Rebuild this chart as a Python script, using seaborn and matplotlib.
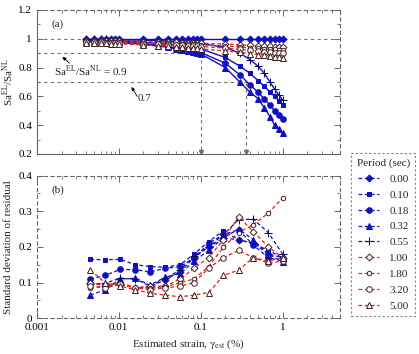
import numpy as np
import pandas as pd
import matplotlib
matplotlib.use("Agg")
import matplotlib.pyplot as plt
import seaborn as sns
from matplotlib.ticker import FuncFormatter, MultipleLocator, LogLocator, NullFormatter

# ============= data =============
periods = ["0.00", "0.10", "0.18", "0.32", "0.55", "1.00", "1.80", "3.20", "5.00"]

# (a) ratio Sa_EL / Sa_NL
strain_a = [0.004, 0.005, 0.006, 0.007, 0.008, 0.009, 0.01,
            0.02, 0.03, 0.04, 0.05, 0.06, 0.07, 0.08, 0.09, 0.1,
            0.2, 0.3, 0.4, 0.5, 0.6, 0.7, 0.8, 0.9, 1.0]
ratio_000 = [1.0] * 25
ratio_010 = [0.99, 0.99, 0.99, 0.99, 0.99, 0.988, 0.987,
             0.975, 0.968, 0.962, 0.955, 0.95, 0.945, 0.94, 0.935, 0.93,
             0.87, 0.81, 0.76, 0.71, 0.67, 0.63, 0.60, 0.57, 0.54]
ratio_018 = [0.985, 0.985, 0.984, 0.983, 0.982, 0.981, 0.98,
             0.965, 0.955, 0.945, 0.937, 0.93, 0.923, 0.917, 0.912, 0.905,
             0.83, 0.75, 0.68, 0.63, 0.58, 0.54, 0.50, 0.47, 0.44]
ratio_032 = [0.98, 0.98, 0.979, 0.978, 0.977, 0.976, 0.975,
             0.96, 0.95, 0.94, 0.93, 0.922, 0.915, 0.908, 0.902, 0.895,
             0.80, 0.70, 0.63, 0.585, 0.52, 0.46, 0.40, 0.37, 0.345]
ratio_055 = [0.995, 0.995, 0.995, 0.995, 0.994, 0.994, 0.993,
             0.99, 0.987, 0.984, 0.981, 0.978, 0.975, 0.972, 0.97, 0.967,
             0.94, 0.90, 0.855, 0.81, 0.76, 0.70, 0.65, 0.61, 0.575]
ratio_100 = [0.985, 0.985, 0.985, 0.984, 0.984, 0.983, 0.983,
             0.98, 0.978, 0.976, 0.975, 0.973, 0.972, 0.971, 0.97, 0.969,
             0.963, 0.958, 0.955, 0.952, 0.95, 0.948, 0.946, 0.944, 0.942]
ratio_180 = [0.98, 0.98, 0.979, 0.979, 0.978, 0.978, 0.977,
             0.973, 0.97, 0.968, 0.966, 0.964, 0.962, 0.961, 0.96, 0.958,
             0.95, 0.943, 0.938, 0.934, 0.931, 0.928, 0.926, 0.924, 0.922]
ratio_320 = [0.975, 0.974, 0.974, 0.973, 0.972, 0.972, 0.971,
             0.966, 0.962, 0.959, 0.956, 0.954, 0.952, 0.95, 0.948, 0.946,
             0.935, 0.926, 0.92, 0.915, 0.911, 0.907, 0.904, 0.901, 0.898]
ratio_500 = [0.97, 0.969, 0.968, 0.967, 0.966, 0.965, 0.964,
             0.957, 0.952, 0.948, 0.944, 0.941, 0.938, 0.935, 0.933, 0.93,
             0.915, 0.905, 0.897, 0.89, 0.885, 0.88, 0.876, 0.872, 0.868]

# (b) standard deviation of residual
strain_b = [0.0045, 0.0068, 0.0104, 0.016, 0.024, 0.037, 0.056,
            0.083, 0.125, 0.19, 0.29, 0.44, 0.67, 1.0]
sd_000 = [0.10, 0.092, 0.095, 0.085, 0.088, 0.108, 0.13, 0.17, 0.20, 0.225, 0.22, 0.21, 0.18, 0.17]
sd_010 = [0.165, 0.164, 0.165, 0.15, 0.145, 0.143, 0.15, 0.18, 0.215, 0.245, 0.22, 0.21, 0.19, 0.17]
sd_018 = [0.11, 0.12, 0.137, 0.136, 0.13, 0.14, 0.145, 0.168, 0.21, 0.235, 0.248, 0.205, 0.17, 0.16]
sd_032 = [0.065, 0.08, 0.11, 0.112, 0.093, 0.115, 0.125, 0.16, 0.19, 0.225, 0.25, 0.22, 0.18, 0.158]
sd_055 = [0.095, 0.098, 0.112, 0.11, 0.09, 0.112, 0.135, 0.175, 0.20, 0.235, 0.276, 0.278, 0.24, 0.18]
sd_100 = [0.10, 0.09, 0.095, 0.085, 0.09, 0.09, 0.11, 0.14, 0.17, 0.22, 0.285, 0.243, 0.20, 0.17]
sd_180 = [0.085, 0.09, 0.10, 0.085, 0.085, 0.088, 0.10, 0.11, 0.145, 0.20, 0.24, 0.262, 0.295, 0.337]
sd_320 = [0.09, 0.085, 0.095, 0.085, 0.08, 0.085, 0.09, 0.10, 0.14, 0.17, 0.19, 0.17, 0.155, 0.16]
sd_500 = [0.135, 0.10, 0.09, 0.08, 0.07, 0.065, 0.06, 0.065, 0.072, 0.12, 0.135, 0.17, 0.16, 0.17]

ratio_all = [ratio_000, ratio_010, ratio_018, ratio_032, ratio_055,
             ratio_100, ratio_180, ratio_320, ratio_500]
sd_all = [sd_000, sd_010, sd_018, sd_032, sd_055, sd_100, sd_180, sd_320, sd_500]

# ============= styles =============
BLUE = "#1010c0"
RED = "#e02020"
markers = ["D", "s", "o", "^", "+", "D", "o", "o", "^"]
msizes = [3.5, 3.5, 4, 4, 6, 3.5, 3.2, 4, 4]

sns.set_style("ticks")
plt.rcParams["font.family"] = ["Liberation Serif", "DejaVu Serif"]
plt.rcParams["mathtext.fontset"] = "stix"
plt.rcParams["font.size"] = 8

fig = plt.figure(figsize=(4.19, 3.54), dpi=100)
ax1 = fig.add_axes([0.088, 0.565, 0.723, 0.407])
ax2 = fig.add_axes([0.088, 0.101, 0.723, 0.403])


def style_kw(i, solid):
    blue = i < 5
    kw = dict(color=BLUE if blue else RED, marker=markers[i], markersize=msizes[i],
              linewidth=1.0 if (blue and solid) else 0.9)
    kw["linestyle"] = "-" if (blue and solid) else (0, (3, 2))
    if blue:
        kw["markerfacecolor"] = BLUE
        kw["markeredgecolor"] = "#101060" if markers[i] == "+" else BLUE
    else:
        kw["markerfacecolor"] = "white"
        kw["markeredgecolor"] = "#402020"
        kw["markeredgewidth"] = 0.7
    return kw


# reference lines in (a)
ref = dict(color="0.45", linestyle=(0, (3, 3)), linewidth=0.8)
ax1.axhline(1.0, **ref)
ax1.plot([0.001, 0.1], [0.9, 0.9], **ref)
ax1.plot([0.001, 0.355], [0.7, 0.7], **ref)
ax1.plot([0.1, 0.1], [0.9, 0.2], **ref)
ax1.plot([0.355, 0.355], [0.7, 0.2], **ref)
ax1.plot([0.1, 0.355], [0.215, 0.215], marker="v", markersize=3, color="0.45", linestyle="none")

for i, p in enumerate(periods):
    sns.lineplot(x=strain_a, y=ratio_all[i], ax=ax1, legend=False, **style_kw(i, True))
    sns.lineplot(x=strain_b, y=sd_all[i], ax=ax2, label=p, **style_kw(i, False))

for ax in (ax1, ax2):
    ax.set_xscale("log")
    ax.set_xlim(0.001, 5)
    ax.xaxis.set_major_locator(LogLocator(base=10, numticks=10))
    ax.xaxis.set_minor_locator(LogLocator(base=10, subs=np.arange(2, 10), numticks=20))
    ax.xaxis.set_minor_formatter(NullFormatter())
    ax.xaxis.set_major_formatter(FuncFormatter(lambda v, _: f"{v:g}"))
    ax.yaxis.set_major_formatter(FuncFormatter(lambda v, _: f"{v:g}"))
    ax.tick_params(which="both", direction="in", top=True, right=True, colors="0.3",
                   labelcolor="black", labelsize=8)
    ax.tick_params(which="major", length=4, width=0.6)
    ax.tick_params(which="minor", length=2, width=0.5)
    for s in ax.spines.values():
        s.set_color("0.4")
        s.set_linewidth(0.8)

for s in ("top", "right"):
    ax1.spines[s].set_linestyle((0, (3, 3)))
for s in ax2.spines.values():
    s.set_linestyle((0, (3, 3)))

ax1.set_ylim(0.2, 1.2)
ax1.yaxis.set_major_locator(MultipleLocator(0.2))
ax1.yaxis.set_minor_locator(MultipleLocator(0.1))
ax1.tick_params(axis="x", labelbottom=False)
ax1.set_xlabel("")
ax1.set_ylabel("Sa$^{\\mathrm{EL}}$/Sa$^{\\mathrm{NL}}$", fontsize=8)
ax1.yaxis.set_label_coords(-0.068, 0.5)

ax2.set_ylim(0, 0.4)
ax2.yaxis.set_major_locator(MultipleLocator(0.1))
ax2.yaxis.set_minor_locator(MultipleLocator(0.05))
ax2.set_xlabel("Estimated strain, $\\mathrm{\\gamma}_{\\mathrm{est}}$ (%)", fontsize=8, labelpad=4)
ax2.set_ylabel("Standard deviation of residual", fontsize=8)
ax2.yaxis.set_label_coords(-0.078, 0.5)

ax1.text(0.0015, 1.1, "(a)", fontsize=8, va="center")
ax2.text(0.0015, 0.36, "(b)", fontsize=8, va="center")

arr = dict(arrowstyle="-|>", color="black", lw=0.6, mutation_scale=5, shrinkA=0, shrinkB=0)
ax1.annotate("", xy=(0.00205, 0.875), xytext=(0.0025, 0.83), arrowprops=arr)
ax1.text(0.0016, 0.77, "Sa$^{\\mathrm{EL}}$/Sa$^{\\mathrm{NL}}$ = 0.9", fontsize=8, va="center")
ax1.annotate("", xy=(0.0143, 0.665), xytext=(0.0168, 0.6), arrowprops=arr)
ax1.text(0.0172, 0.585, "0.7", fontsize=8, va="center")

handles, labels = ax2.get_legend_handles_labels()
ax2.get_legend().remove()
leg = fig.legend(handles, labels, title="Period (sec)", loc="upper left",
                 bbox_to_anchor=(0.83, 0.578), fontsize=8, title_fontsize=8,
                 frameon=True, fancybox=False, handlelength=1.9, labelspacing=0.55,
                 borderpad=0.5, handletextpad=0.9, borderaxespad=0.3)
frame = leg.get_frame()
frame.set_linestyle((0, (2, 2)))
frame.set_edgecolor("0.4")
frame.set_linewidth(0.8)

fig.savefig("out.png", dpi=100)
